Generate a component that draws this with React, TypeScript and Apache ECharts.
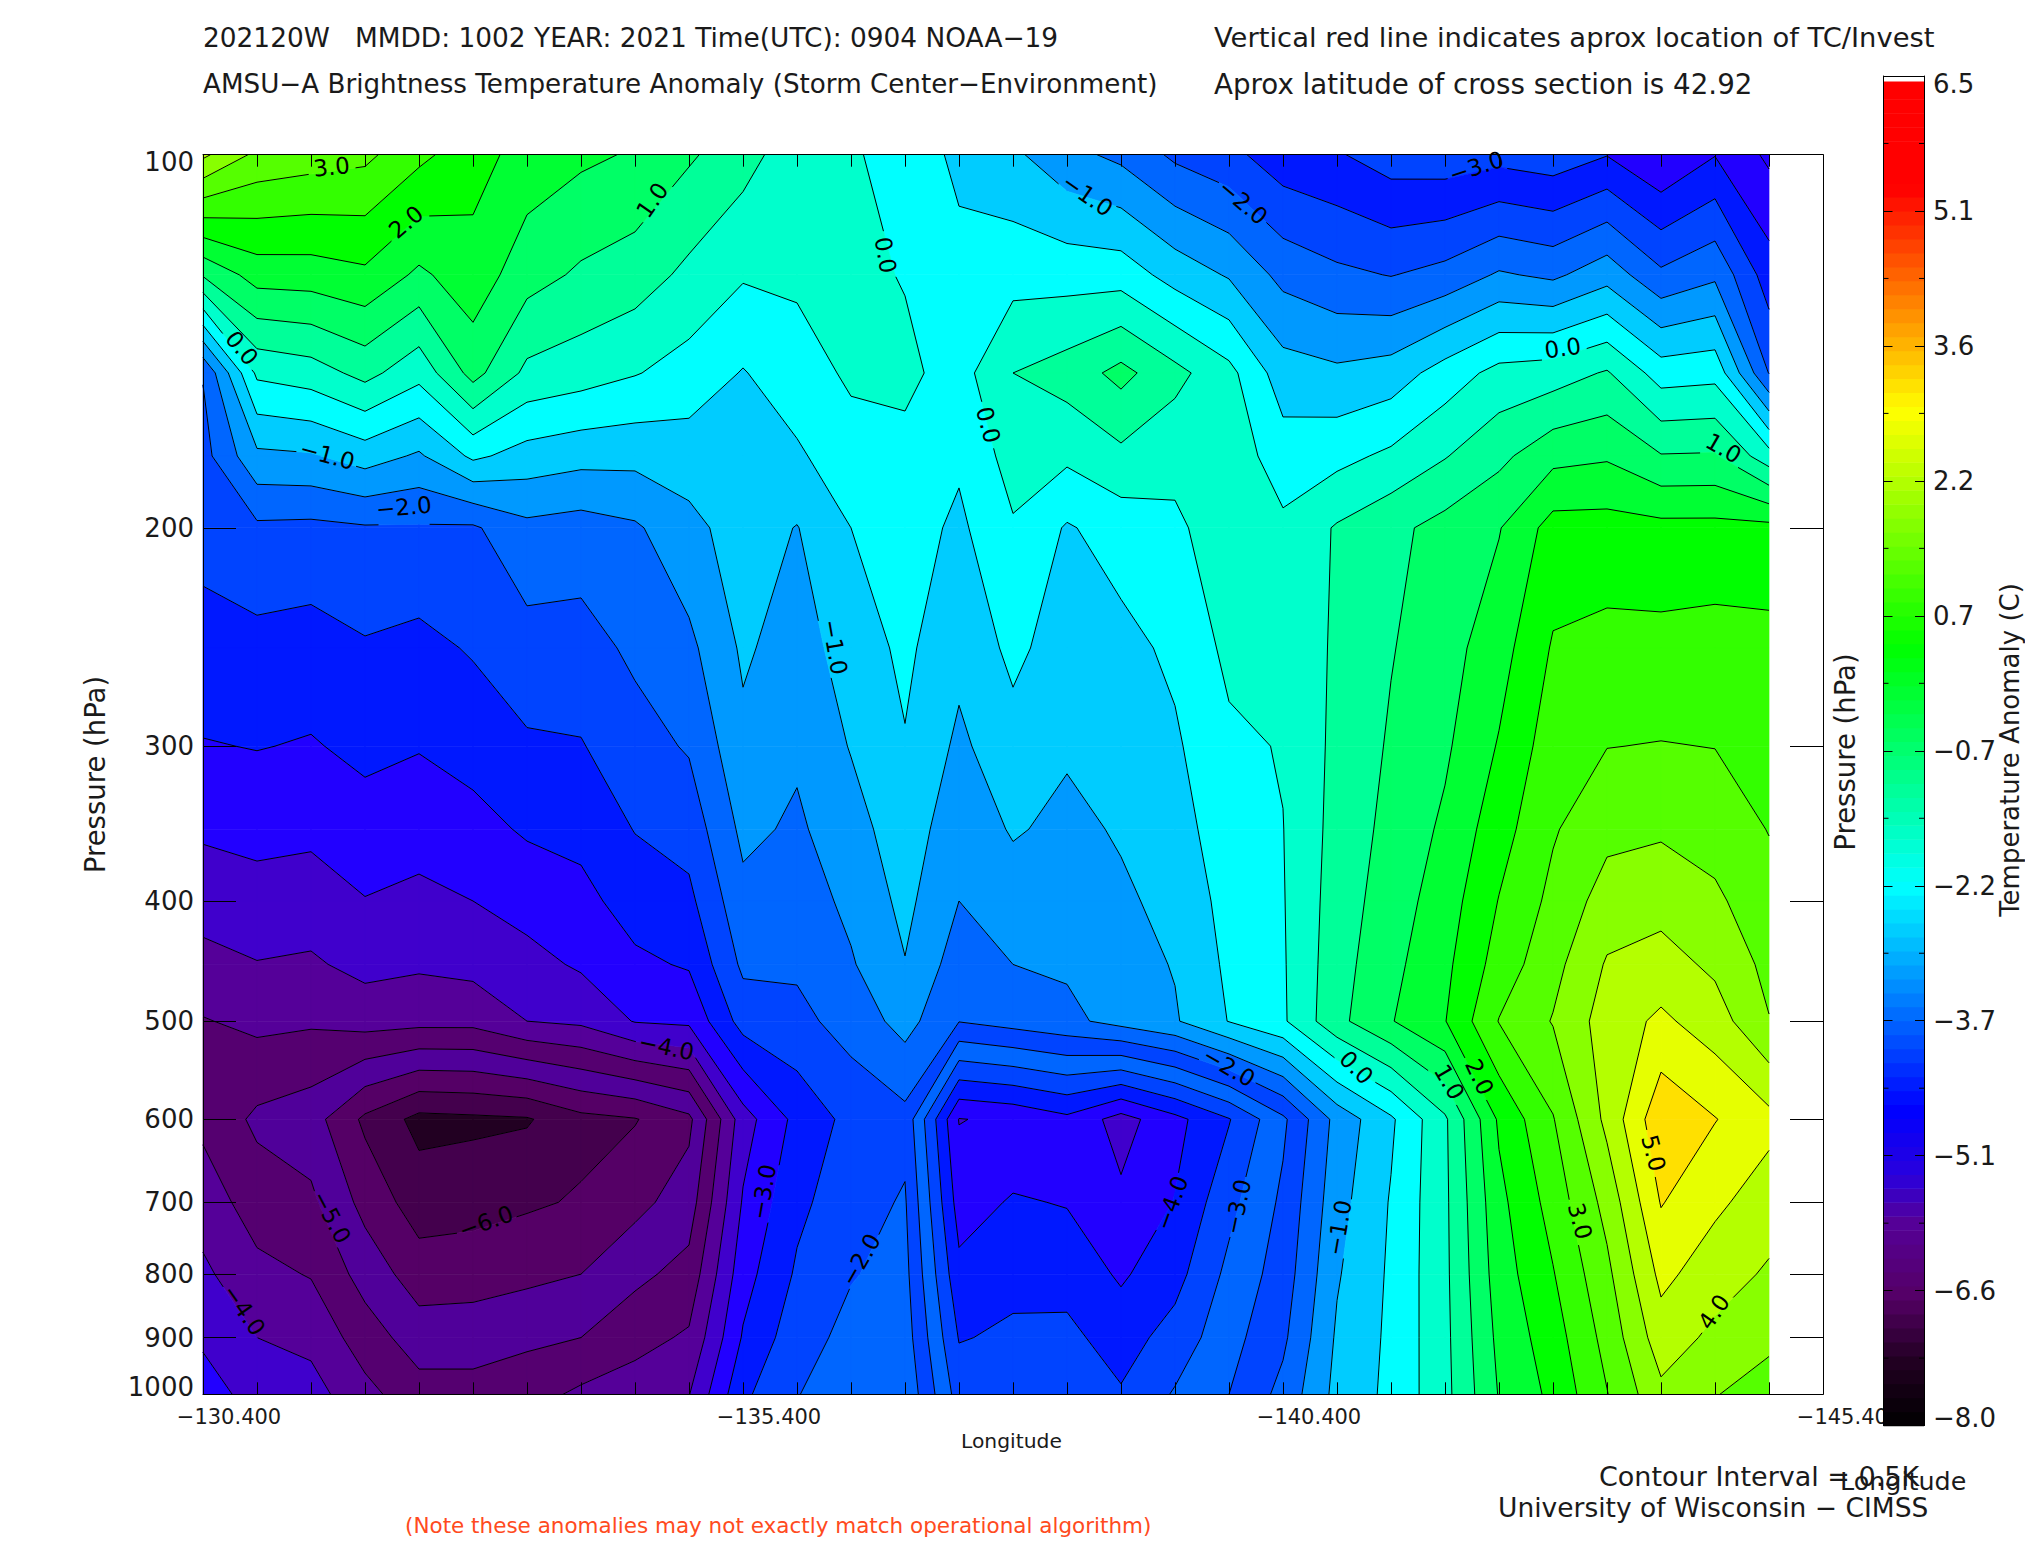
import React, { useEffect, useRef } from "react";
import * as echarts from "echarts";

const FONT = '"DejaVu Sans", sans-serif';
const INK = "#1a1a1a";

const longitudes = [
  -130.4, -130.9, -131.4, -131.9, -132.4, -132.9, -133.4, -133.9, -134.4, -134.9,
  -135.4, -135.9, -136.4, -136.9, -137.4, -137.9, -138.4, -138.9, -139.4, -139.9,
  -140.4, -140.9, -141.4, -141.9, -142.4, -142.9, -143.4, -143.9, -144.4, -144.9,
];
const pressures = [100, 125, 150, 175, 200, 250, 300, 350, 400, 450, 500, 600, 700, 800, 900, 1000];

// one line per longitude, one value per pressure level
const anomalyByColumn = [
  [4.1, 1.05, -1.97, -2.18, -2.34, -2.67, -3.03, -3.42, -3.8, -4.15, -4.53, -4.62, -4.23, -3.9, -3.57, -3.3],
  [3.38, 1.72, 0.1, -1.11, -2.1, -2.65, -2.98, -3.34, -3.7, -4.02, -4.38, -5.1, -4.74, -4.36, -4, -3.67],
  [3.24, 1.75, 0.26, -1.05, -2.13, -2.71, -3.04, -3.39, -3.74, -4.07, -4.43, -5.28, -4.9, -4.53, -4.14, -3.8],
  [3.12, 1.9, 0.66, -0.77, -2.05, -2.55, -2.88, -3.2, -3.52, -3.85, -4.3, -6.1, -5.66, -5.2, -4.75, -4.35],
  [2.63, 1.4, 0.17, -1.07, -2.05, -2.65, -2.97, -3.3, -3.62, -3.93, -4.35, -6.65, -6.25, -5.75, -5.25, -4.8],
  [2.2, 1.8, 1.18, -0.4, -2.07, -2.45, -2.82, -3.16, -3.5, -3.85, -4.35, -6.6, -6.2, -5.7, -5.25, -4.8],
  [1.8, 1.2, 0.38, -0.7, -1.63, -2.2, -2.57, -2.94, -3.3, -3.67, -4, -6.55, -6.07, -5.62, -5.1, -4.7],
  [1.6, 0.92, 0.23, -0.83, -1.72, -2.2, -2.53, -2.85, -3.15, -3.43, -3.9, -6.15, -5.95, -5.5, -5, -4.4],
  [1.45, 0.75, 0.03, -0.85, -1.57, -1.9, -2.2, -2.48, -2.78, -3.1, -3.47, -6.03, -5.65, -5.12, -4.67, -4.25],
  [1.07, 0.38, -0.2, -0.75, -1.15, -1.62, -1.95, -2.3, -2.62, -2.95, -3.4, -5.62, -5.25, -4.83, -4.43, -4.02],
  [0.7, 0.05, -0.53, -0.65, -0.76, -0.92, -1.12, -1.38, -1.64, -1.9, -2.3, -3.72, -3.45, -3.2, -2.95, -2.6],
  [0.2, 0.08, -0.2, -0.58, -1.02, -1.25, -1.42, -1.58, -1.76, -1.92, -2.14, -2.85, -2.62, -2.43, -2.2, -2.02],
  [0.03, 0.13, 0.07, -0.18, -0.5, -0.75, -0.97, -1.2, -1.38, -1.55, -1.8, -2.35, -2.2, -2.03, -1.86, -1.7],
  [-0.1, -0.03, 0.11, -0.13, -0.27, -0.4, -0.53, -0.72, -0.87, -1.02, -1.32, -2.15, -1.95, -1.85, -1.75, -1.6],
  [-0.65, -0.3, -0.2, -0.42, -0.6, -0.86, -1.1, -1.32, -1.5, -1.75, -1.98, -4.52, -4.22, -3.87, -3.53, -3.22],
  [-0.9, -0.18, 0.5, 0.2, -0.05, -0.38, -0.68, -0.95, -1.24, -1.5, -1.8, -4.4, -3.95, -3.63, -3.42, -3.25],
  [-1.35, -0.2, 0.72, 0.1, -0.55, -0.75, -0.94, -1.12, -1.29, -1.43, -1.63, -4.12, -4.03, -3.68, -3.38, -3.15],
  [-1.62, -0.22, 1.15, 0.38, -0.28, -0.65, -0.82, -0.95, -1.08, -1.2, -1.32, -4.7, -4.4, -4.07, -3.72, -3.45],
  [-2.1, -0.7, 0.65, 0.16, -0.1, -0.4, -0.57, -0.72, -0.86, -0.97, -1.05, -4.15, -3.98, -3.68, -3.3, -2.95],
  [-2.35, -1.05, 0.15, 0.3, 0.3, 0.12, -0.1, -0.2, -0.32, -0.4, -0.48, -3.53, -3.15, -2.87, -2.68, -2.5],
  [-2.8, -1.65, -0.77, -0.26, 0.1, 0.08, 0.03, -0.01, -0.03, -0.05, -0.07, -2.6, -2.4, -2.27, -2.1, -1.85],
  [-2.95, -1.89, -0.9, -0.15, 0.55, 0.59, 0.63, 0.68, 0.74, 0.8, 0.86, -1.33, -1.19, -1.05, -0.93, -0.85],
  [-3.25, -2.02, -0.77, 0.1, 0.87, 0.97, 1.06, 1.15, 1.25, 1.36, 1.47, -0.58, -0.46, -0.42, -0.4, -0.38],
  [-3.3, -1.83, -0.28, 0.47, 1.17, 1.3, 1.42, 1.59, 1.75, 1.88, 1.98, 0.42, 0.4, 0.39, 0.37, 0.35],
  [-3.18, -1.44, 0.16, 0.87, 1.47, 1.79, 2.04, 2.29, 2.52, 2.71, 3.02, 2.08, 1.86, 1.75, 1.63, 1.53],
  [-3.3, -1.6, 0.26, 1.35, 2.2, 2.55, 2.77, 2.95, 3.13, 3.34, 3.53, 2.97, 2.7, 2.47, 2.27, 2.12],
  [-3.02, -1.2, 0.55, 1.44, 2.2, 2.65, 2.99, 3.36, 3.72, 4.05, 4.23, 4.13, 3.67, 3.38, 3.17, 2.98],
  [-3.5, -1.9, -0.23, 1.03, 2.15, 2.65, 3.02, 3.43, 3.82, 4.2, 4.6, 5.37, 5.03, 4.63, 4.27, 3.88],
  [-3.02, -1.6, -0.16, 1.05, 2.15, 2.7, 2.99, 3.3, 3.59, 3.9, 4.24, 5.02, 4.6, 4.23, 3.88, 3.52],
  [-3.6, -2.76, -2.02, 0.21, 2.15, 2.66, 2.82, 2.98, 3.19, 3.36, 3.52, 4.65, 4.25, 3.93, 3.6, 3.3],
];

const contourLevels = [
  -6.5, -6, -5.5, -5, -4.5, -4, -3.5, -3, -2.5, -2, -1.5, -1, -0.5, 0, 0.5, 1, 1.5, 2, 2.5, 3, 3.5, 4, 4.5, 5, 5.5,
];
const bandColors = [
  "#220022", "#44004d", "#550066", "#50009a", "#550070", "#550099", "#4000cc", "#2200ff", "#0018ff", "#0044ff",
  "#0066ff", "#0099ff", "#00ccff", "#00ffff", "#00ffcc", "#00ff99", "#00ff66", "#00ff33", "#00ff00", "#33ff00",
  "#55ff00", "#88ff00", "#b4ff00", "#e6ff00", "#ffe000", "#ffaa00",
];
// The original's fill paints closed depressions one band off; these keep its colours.
// Keys are the upper level of the band.
const lowerBlobColors: Record<string, string> = {
  "-2.5": "#0066ff", "-3": "#0044ff", "-3.5": "#0018ff", "-4": "#2200ff", "-4.5": "#4000cc",
};
const topWestColor = "#0044ff";
const topFarWestColor = "#2200ff";

// [longitude, pressure, level, text, rotation in degrees]
const contourLabels: [number, number, number, string, number][] = [
  [-131.59, 102.3, 3, "3.0", 6], [-132.28, 113.3, 2, "2.0", 40], [-134.56, 108.8, 1, "1.0", 55],
  [-130.76, 143.2, 0, "0.0", -50], [-131.55, 174.7, -1, "−1.0", -15], [-132.26, 192.4, -2, "−2.0", 5],
  [-136.72, 120.5, 0, "0.0", -80], [-137.67, 165.2, 0, "0.0", -75], [-138.59, 107.8, -1, "−1.0", -35],
  [-140.03, 109.2, -2, "−2.0", -40], [-142.19, 102.3, -3, "−3.0", 18], [-142.99, 143.2, 0, "0.0", 8],
  [-144.48, 172.5, 1, "1.0", -30], [-136.25, 249.6, -1, "−1.0", -80], [-134.69, 524.6, -4, "−4.0", -12],
  [-131.59, 719.5, -5, "−5.0", -62], [-133.02, 726, -6, "−6.0", 20], [-130.78, 855, -4, "−4.0", -55],
  [-135.59, 686.7, -3, "−3.0", 80], [-136.49, 779, -2, "−2.0", 60], [-139.37, 701, -4, "−4.0", 70],
  [-139.98, 706, -3, "−3.0", 78], [-139.9, 544.5, -2, "−2.0", -30], [-141.08, 545, 0, "0.0", -45],
  [-141.94, 559.8, 1, "1.0", -60], [-142.22, 554.6, 2, "2.0", -65], [-140.92, 734, -1, "−1.0", 80],
  [-143.15, 725, 3, "3.0", -75], [-143.83, 638.8, 5, "5.0", -75], [-144.39, 858, 4, "4.0", 55],
];

const pressureTicks = [100, 200, 300, 400, 500, 600, 700, 800, 900, 1000];
const longitudeLabels = [-130.4, -135.4, -140.4, -145.4];
const colorbarTicks = [-8, -6.55, -5.1, -3.65, -2.2, -0.75, 0.7, 2.15, 3.6, 5.05, 6.5];
const colorbarTickLabels = ["−8.0", "−6.6", "−5.1", "−3.7", "−2.2", "−0.7", "0.7", "2.2", "3.6", "5.1", "6.5"];
const colorbarMinorTicks = [-7.275, -5.825, -4.375, -2.925, -1.475, -0.025, 1.425, 2.875, 4.325, 5.775];
const colorbarStops: [number, number[]][] = [
  [-8, [0, 0, 0]], [-7.3, [34, 0, 34]], [-6.6, [85, 0, 102]], [-5.8, [85, 0, 153]], [-5.3, [42, 0, 221]],
  [-4.6, [0, 0, 255]], [-2.2, [0, 255, 255]], [0.38, [0, 255, 0]], [2.9, [255, 255, 0]], [5.3, [255, 0, 0]], [6.44, [255, 0, 0]],
];

type P = { x: number; y: number; v: number };

function clipBand(poly: P[], level: number, keepAbove: boolean): P[] {
  const out: P[] = [];
  const inside = (p: P) => (keepAbove ? p.v >= level : p.v < level);
  for (let k = 0; k < poly.length; k++) {
    const a = poly[k];
    const b = poly[(k + 1) % poly.length];
    const ia = inside(a);
    const ib = inside(b);
    if (ia) out.push(a);
    if (ia !== ib) {
      const t = (level - a.v) / (b.v - a.v);
      out.push({ x: a.x + t * (b.x - a.x), y: a.y + t * (b.y - a.y), v: level });
    }
  }
  return out;
}

function cellCorners(api: any, i: number, j: number): P[] {
  return [[i, j], [i + 1, j], [i + 1, j + 1], [i, j + 1]].map(([c, r]) => {
    const [x, y] = api.coord([longitudes[c], pressures[r]]);
    return { x, y, v: anomalyByColumn[c][r] };
  });
}

function bandColor(band: number, i: number, j: number): string {
  const high = contourLevels[band] ?? 99;
  if (i >= 13 && i <= 20 && pressures[j] >= 400 && high <= -2.5) {
    return lowerBlobColors[String(high)] ?? bandColors[band];
  }
  if (i >= 21 && pressures[j] <= 200 && high <= -3) {
    return i <= 25 ? topWestColor : topFarWestColor;
  }
  return bandColors[band];
}

function renderFill(_: any, api: any) {
  const i = api.value(2);
  const j = api.value(3);
  const corners = cellCorners(api, i, j);
  const children: any[] = [];
  for (let band = 0; band <= contourLevels.length; band++) {
    let poly = corners;
    if (band > 0) poly = clipBand(poly, contourLevels[band - 1], true);
    if (poly.length && band < contourLevels.length) poly = clipBand(poly, contourLevels[band], false);
    if (poly.length >= 3) {
      const color = bandColor(band, i, j);
      children.push({
        type: "polygon",
        shape: { points: poly.map((p) => [p.x, p.y]) },
        style: { fill: color, stroke: color, lineWidth: 0.7 },
      });
    }
  }
  return { type: "group", children };
}

function cutAroundLabels(a: number[], b: number[], cuts: { x: number; y: number; r: number }[]) {
  let pieces: [number, number][] = [[0, 1]];
  const dx = b[0] - a[0];
  const dy = b[1] - a[1];
  const len2 = dx * dx + dy * dy;
  if (len2 === 0) return [];
  for (const c of cuts) {
    const fx = a[0] - c.x;
    const fy = a[1] - c.y;
    const bq = (fx * dx + fy * dy) / len2;
    const cq = (fx * fx + fy * fy - c.r * c.r) / len2;
    const disc = bq * bq - cq;
    if (disc <= 0) continue;
    const s = Math.sqrt(disc);
    const t0 = -bq - s;
    const t1 = -bq + s;
    const next: [number, number][] = [];
    for (const [u, v] of pieces) {
      if (t0 > u) next.push([u, Math.min(v, t0)]);
      if (t1 < v) next.push([Math.max(u, t1), v]);
    }
    pieces = next;
  }
  return pieces.map(([u, v]) => [a[0] + u * dx, a[1] + u * dy, a[0] + v * dx, a[1] + v * dy]);
}

function renderLines(_: any, api: any) {
  const i = api.value(2);
  const j = api.value(3);
  const corners = cellCorners(api, i, j);
  const children: any[] = [];
  for (const level of contourLevels) {
    const hits: number[][] = [];
    for (let k = 0; k < 4; k++) {
      const a = corners[k];
      const b = corners[(k + 1) % 4];
      if (a.v < level !== b.v < level) {
        const t = (level - a.v) / (b.v - a.v);
        hits.push([a.x + t * (b.x - a.x), a.y + t * (b.y - a.y)]);
      }
    }
    if (hits.length < 2) continue;
    const pairs = hits.length === 2 ? [[hits[0], hits[1]]] : [[hits[0], hits[1]], [hits[2], hits[3]]];
    const cuts = contourLabels
      .filter((l) => l[2] === level)
      .map((l) => {
        const [x, y] = api.coord([l[0], l[1]]);
        return { x, y, r: l[3].length * 7 + 3 };
      });
    for (const [a, b] of pairs) {
      for (const seg of cutAroundLabels(a, b, cuts)) {
        children.push({
          type: "line",
          shape: { x1: seg[0], y1: seg[1], x2: seg[2], y2: seg[3] },
          style: { stroke: "#000", lineWidth: 1 },
        });
      }
    }
  }
  return { type: "group", children };
}

function renderContourLabel(_: any, api: any) {
  const label = contourLabels[api.value(2)];
  const [x, y] = api.coord([label[0], label[1]]);
  return {
    type: "text",
    x,
    y,
    rotation: (label[4] * Math.PI) / 180,
    style: { text: label[3], fill: "#000", fontFamily: FONT, fontSize: 23, align: "center", verticalAlign: "middle" },
  };
}

function rampColor(v: number): string {
  for (let k = 1; k < colorbarStops.length; k++) {
    const [v1, c1] = colorbarStops[k];
    if (v <= v1) {
      const [v0, c0] = colorbarStops[k - 1];
      const t = (v - v0) / (v1 - v0);
      return `rgb(${c0.map((c, n) => Math.round(c + t * (c1[n] - c))).join(",")})`;
    }
  }
  return "#ffffff";
}

function renderColorbarStep(_: any, api: any) {
  const low = api.value(0);
  const high = api.value(1);
  const [x0, y0] = api.coord([0, high]);
  const [x1, y1] = api.coord([1, low]);
  const color = rampColor((low + high) / 2);
  return {
    type: "rect",
    shape: { x: x0, y: y0, width: x1 - x0, height: y1 - y0 + 0.6 },
    style: { fill: color },
  };
}

function renderColorbarMinor(_: any, api: any) {
  const v = api.value(0);
  const [x0, y] = api.coord([0, v]);
  const [x1] = api.coord([1, v]);
  return {
    type: "group",
    children: [
      { type: "line", shape: { x1: x0, y1: y, x2: x0 + 5, y2: y }, style: { stroke: "#000", lineWidth: 1 } },
      { type: "line", shape: { x1: x1 - 5, y1: y, x2: x1, y2: y }, style: { stroke: "#000", lineWidth: 1 } },
    ],
  };
}

function freeText(text: string, left: number, cy: number, size: number, extra: any = {}) {
  return {
    type: "text",
    left,
    top: cy - size * 0.6,
    z: 20,
    style: { text, fill: INK, fontFamily: FONT, fontSize: size, ...extra },
  };
}

function rotatedText(text: string, x: number, y: number, size: number) {
  return {
    type: "text",
    x,
    y,
    rotation: Math.PI / 2,
    z: 20,
    style: { text, fill: INK, fontFamily: FONT, fontSize: size, align: "center", verticalAlign: "middle" },
  };
}

function buildOption() {
  const cells: number[][] = [];
  for (let i = 0; i < longitudes.length - 1; i++) {
    for (let j = 0; j < pressures.length - 1; j++) {
      cells.push([longitudes[i], pressures[j], i, j]);
    }
  }
  const colorbarSteps: number[][] = [];
  for (let v = -8; v < 6.44; v += 0.15) {
    colorbarSteps.push([v, Math.min(v + 0.15, 6.44)]);
  }
  const lineStyle = { color: "#000", width: 1 };
  const mainX = (position: string, labels: boolean) => ({
    type: "value",
    gridIndex: 0,
    position,
    inverse: true,
    min: -145.4,
    max: -130.4,
    z: 5,
    axisLine: { show: true, onZero: false, lineStyle },
    axisTick: { show: true, inside: true, length: 12, customValues: longitudes.slice(1), lineStyle },
    axisLabel: labels
      ? {
          show: true,
          customValues: longitudeLabels,
          formatter: (v: number) => `−${Math.abs(v).toFixed(3)}`,
          color: INK,
          fontFamily: FONT,
          fontSize: 21,
          margin: 12,
          padding: [0, 0, 0, 52],
          hideOverlap: false,
        }
      : { show: false },
    splitLine: { show: false },
    minorTick: { show: false },
  });
  const mainY = (position: string, labels: boolean) => ({
    type: "log",
    logBase: 10,
    gridIndex: 0,
    position,
    inverse: true,
    min: 100,
    max: 1000,
    z: 5,
    axisLine: { show: true, onZero: false, lineStyle },
    axisTick: { show: true, inside: true, length: 33, customValues: pressureTicks.slice(1, -1), lineStyle },
    axisLabel: labels
      ? {
          show: true,
          customValues: pressureTicks,
          formatter: (v: number) => String(Math.round(v)),
          color: INK,
          fontFamily: FONT,
          fontSize: 26,
          margin: 9,
          lineHeight: 14,
          verticalAlignMinLabel: "top",
          verticalAlignMaxLabel: "bottom",
          hideOverlap: false,
        }
      : { show: false },
    splitLine: { show: false },
    minorTick: { show: false },
    minorSplitLine: { show: false },
    ...(labels
      ? {
          name: "Pressure (hPa)",
          nameLocation: "middle",
          nameGap: 94,
          nameRotate: 90,
          nameTextStyle: { color: INK, fontFamily: FONT, fontSize: 27.5 },
        }
      : {}),
  });
  const barX = (position: string) => ({
    type: "value",
    gridIndex: 1,
    position,
    min: 0,
    max: 1,
    z: 11,
    axisLine: { show: true, onZero: false, lineStyle },
    axisTick: { show: false },
    axisLabel: { show: false },
    splitLine: { show: false },
  });
  const barY = (position: string, labels: boolean) => ({
    type: "value",
    gridIndex: 1,
    position,
    min: -8,
    max: 6.5,
    z: 11,
    axisLine: { show: true, onZero: false, lineStyle },
    axisTick: { show: true, inside: true, length: 9, customValues: colorbarTicks, lineStyle },
    axisLabel: labels
      ? {
          show: true,
          customValues: colorbarTicks,
          formatter: (v: number) =>
            colorbarTickLabels[colorbarTicks.findIndex((t) => Math.abs(t - v) < 0.01)] ?? "",
          color: INK,
          fontFamily: FONT,
          fontSize: 26,
          margin: 9,
          align: "left",
          lineHeight: 16,
          verticalAlignMinLabel: "bottom",
          verticalAlignMaxLabel: "top",
          hideOverlap: false,
        }
      : { show: false },
    splitLine: { show: false },
  });
  return {
    animation: false,
    backgroundColor: "#ffffff",
    grid: [
      { left: 203, top: 154.7, width: 1620, height: 1239.6 },
      { left: 1883.5, top: 76, width: 40.5, height: 1349.6 },
    ],
    xAxis: [mainX("bottom", true), mainX("top", false), barX("bottom"), barX("top")],
    yAxis: [mainY("left", true), mainY("right", false), barY("left", false), barY("right", true)],
    series: [
      {
        type: "custom",
        name: "Brightness temperature anomaly",
        xAxisIndex: 0,
        yAxisIndex: 0,
        clip: false,
        silent: true,
        z: 2,
        encode: { x: 0, y: 1 },
        data: cells,
        renderItem: renderFill,
      },
      {
        type: "custom",
        name: "Contours",
        xAxisIndex: 0,
        yAxisIndex: 0,
        clip: false,
        silent: true,
        z: 3,
        encode: { x: 0, y: 1 },
        data: cells,
        renderItem: renderLines,
      },
      {
        type: "custom",
        name: "Contour labels",
        xAxisIndex: 0,
        yAxisIndex: 0,
        clip: false,
        silent: true,
        z: 4,
        encode: { x: 0, y: 1 },
        data: contourLabels.map((l, n) => [l[0], l[1], n]),
        renderItem: renderContourLabel,
      },
      {
        type: "custom",
        name: "Colour bar",
        xAxisIndex: 2,
        yAxisIndex: 2,
        clip: false,
        silent: true,
        z: 10,
        encode: { y: 0 },
        data: colorbarSteps,
        renderItem: renderColorbarStep,
      },
      {
        type: "custom",
        name: "Colour bar minor ticks",
        xAxisIndex: 2,
        yAxisIndex: 2,
        clip: false,
        silent: true,
        z: 12,
        encode: { y: 0 },
        data: colorbarMinorTicks.map((v) => [v]),
        renderItem: renderColorbarMinor,
      },
    ],
    graphic: [
      freeText("202120W   MMDD: 1002 YEAR: 2021 Time(UTC): 0904 NOAA−19", 203, 40, 26.4),
      freeText("AMSU−A Brightness Temperature Anomaly (Storm Center−Environment)", 203, 87, 26.2),
      freeText("Vertical red line indicates aprox location of TC/Invest", 1214, 40, 27.4),
      freeText("Aprox latitude of cross section is 42.92", 1214, 87, 27.7),
      freeText("Longitude", 961, 1443, 20.3),
      freeText("Longitude", 1840, 1484, 25.4),
      freeText("Contour Interval = 0.5K", 1599, 1479, 27),
      freeText("University of Wisconsin − CIMSS", 1498, 1510, 26.5),
      freeText("(Note these anomalies may not exactly match operational algorithm)", 405, 1527, 21.5, { fill: "#ff4a20" }),
      rotatedText("Pressure (hPa)", 1845, 752, 27.5),
      rotatedText("Temperature Anomaly (C)", 2010, 750, 26),
    ],
  };
}

export default function App() {
  const ref = useRef<HTMLDivElement>(null);
  useEffect(() => {
    const chart = echarts.init(ref.current!, undefined, { renderer: "svg" });
    chart.setOption(buildOption() as any);
    return () => chart.dispose();
  }, []);
  return <div ref={ref} style={{ position: "fixed", left: 0, top: 0, width: 2025, height: 1550 }} />;
}
